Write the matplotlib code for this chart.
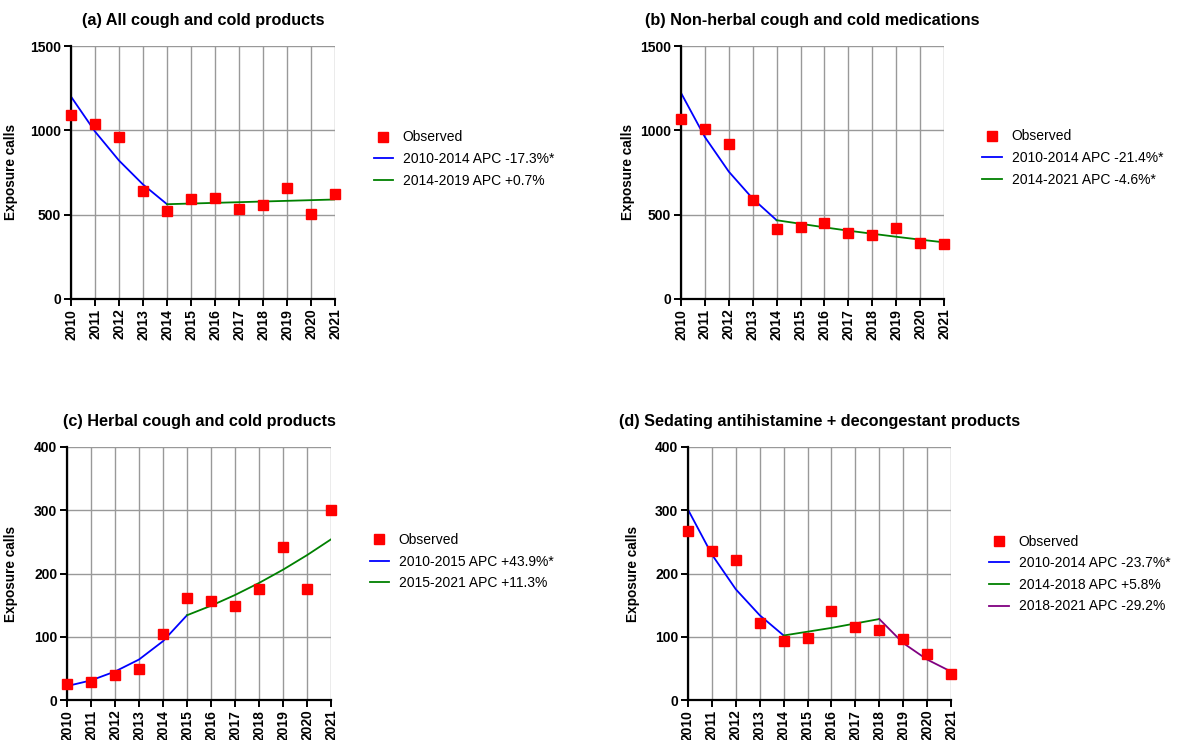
import matplotlib
matplotlib.use("Agg")
import matplotlib.pyplot as plt

plt.rcParams['font.family'] = ['Liberation Sans', 'DejaVu Sans']

years = list(range(2010, 2022))

# (a) all cough and cold products
obs_a = [1090, 1035, 960, 640, 520, 590, 600, 535, 555, 660, 505, 625]
fit_a1_years = [2010, 2011, 2012, 2013, 2014]
fit_a1 = [1200, 993, 821, 679, 562]
fit_a2_years = [2014, 2015, 2016, 2017, 2018, 2019, 2020, 2021]
fit_a2 = [562, 566, 570, 574, 578, 582, 586, 590]

# (b) non-herbal cough and cold medications
obs_b = [1065, 1005, 920, 587, 415, 427, 450, 390, 378, 420, 330, 327]
fit_b1_years = [2010, 2011, 2012, 2013, 2014]
fit_b1 = [1222, 960, 755, 595, 467]
fit_b2_years = [2014, 2015, 2016, 2017, 2018, 2019, 2020, 2021]
fit_b2 = [467, 446, 425, 405, 387, 369, 352, 336]

# (c) herbal cough and cold products
obs_c = [26, 29, 40, 49, 104, 162, 156, 148, 175, 242, 175, 300]
fit_c1_years = [2010, 2011, 2012, 2013, 2014, 2015]
fit_c1 = [22, 31, 45, 64, 93, 134]
fit_c2_years = [2015, 2016, 2017, 2018, 2019, 2020, 2021]
fit_c2 = [134, 149, 166, 185, 206, 229, 254]

# (d) sedating antihistamine + decongestant products
obs_d = [267, 235, 222, 121, 93, 98, 141, 116, 111, 96, 73, 41]
fit_d1_years = [2010, 2011, 2012, 2013, 2014]
fit_d1 = [301, 230, 175, 134, 102]
fit_d2_years = [2014, 2015, 2016, 2017, 2018]
fit_d2 = [102, 108, 114, 121, 128]
fit_d3_years = [2018, 2019, 2020, 2021]
fit_d3 = [128, 90, 64, 45]

W, H = 1179, 740
fig = plt.figure(figsize=(W / 100, H / 100), dpi=100)


def make_axes(left, top, right, bottom):
    return fig.add_axes([left / W, 1 - bottom / H, (right - left) / W, (bottom - top) / H])


def style(ax, title, ymax, ystep, ylab_off, leg_y):
    ax.set_xlim(2010, 2021)
    ax.set_ylim(0, ymax)
    ax.set_xticks(years)
    ax.set_xticklabels([str(y) for y in years], rotation=90, fontweight='bold', fontsize=10)
    ax.set_yticks(range(0, ymax + 1, ystep))
    for lab in ax.get_yticklabels():
        lab.set_fontweight('bold')
        lab.set_fontsize(10)
    ax.grid(True, color='#999999', lw=1)
    ax.set_axisbelow(True)
    for s in ['top', 'right']:
        ax.spines[s].set_visible(False)
    for s in ['left', 'bottom']:
        ax.spines[s].set_linewidth(1.6)
    ax.tick_params(direction='out', length=5, width=1.4, pad=2)
    ax.set_title(title, fontweight='bold', fontsize=11.7, pad=15)
    ax.set_ylabel('Exposure calls', fontweight='bold', fontsize=9.8)
    ax.yaxis.set_label_coords(-ylab_off / 264, 0.5)
    ax.legend(loc='center left', bbox_to_anchor=(1.125, leg_y), frameon=False,
              fontsize=10, handlelength=1.4, handletextpad=0.7, labelspacing=0.55,
              borderaxespad=0)


def observed(ax, vals):
    ax.plot(years, vals, 's', color='#ff0000', ms=7.5, ls='none', label='Observed',
            clip_on=False, zorder=5)


ax = make_axes(71, 46, 335, 299)
observed(ax, obs_a)
ax.plot(fit_a1_years, fit_a1, color='#0000ff', lw=1.3, label='2010-2014 APC -17.3%*')
ax.plot(fit_a2_years, fit_a2, color='#008000', lw=1.3, label='2014-2019 APC +0.7%')
style(ax, '(a) All cough and cold products', 1500, 500, 53, 0.553)

ax = make_axes(681, 46, 944, 299)
observed(ax, obs_b)
ax.plot(fit_b1_years, fit_b1, color='#0000ff', lw=1.3, label='2010-2014 APC -21.4%*')
ax.plot(fit_b2_years, fit_b2, color='#008000', lw=1.3, label='2014-2021 APC -4.6%*')
style(ax, '(b) Non-herbal cough and cold medications', 1500, 500, 46, 0.557)

ax = make_axes(67, 447, 331, 700)
observed(ax, obs_c)
ax.plot(fit_c1_years, fit_c1, color='#0000ff', lw=1.3, label='2010-2015 APC +43.9%*')
ax.plot(fit_c2_years, fit_c2, color='#008000', lw=1.3, label='2015-2021 APC +11.3%')
style(ax, '(c) Herbal cough and cold products', 400, 100, 49, 0.547)

ax = make_axes(688, 447, 951, 700)
observed(ax, obs_d)
ax.plot(fit_d1_years, fit_d1, color='#0000ff', lw=1.3, label='2010-2014 APC -23.7%*')
ax.plot(fit_d2_years, fit_d2, color='#008000', lw=1.3, label='2014-2018 APC +5.8%')
ax.plot(fit_d3_years, fit_d3, color='#800080', lw=1.3, label='2018-2021 APC -29.2%')
style(ax, '(d) Sedating antihistamine + decongestant products', 400, 100, 48, 0.498)

fig.savefig('out.png', dpi=100)
